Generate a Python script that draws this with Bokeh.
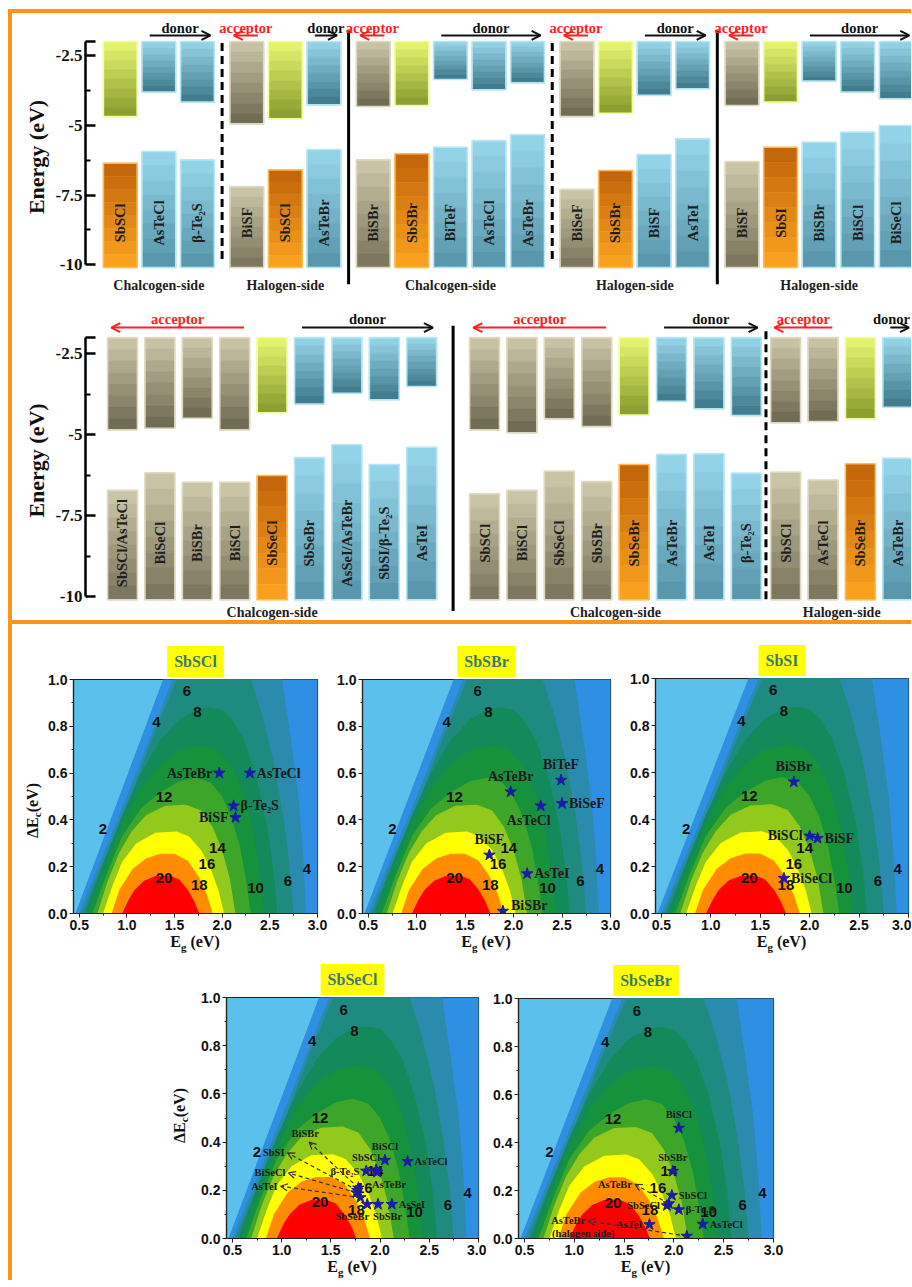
from math import pi
import numpy as np
from bokeh.plotting import figure
from bokeh.models import (ColumnDataSource, FixedTicker, Arrow, OpenHead, Spacer, Div,
                          NumeralTickFormatter, Range1d)
from bokeh.layouts import row, column
from bokeh.core.properties import value, field
from bokeh.embed import file_html
from bokeh.resources import INLINE

SERIF = "Liberation Serif"
SANS = "Liberation Sans"
ORANGE = "#f7951d"

# ===================== band alignment data =====================
# upper row
r1_names = ["SbSCl", "AsTeCl", "β-Te₂S",
            "BiSF", "SbSCl", "AsTeBr",
            "BiSBr", "SbSBr", "BiTeF", "AsTeCl", "AsTeBr",
            "BiSeF", "SbSBr", "BiSF", "AsTeI",
            "BiSF", "SbSI", "BiSBr", "BiSCl", "BiSeCl"]
r1_group = [0, 0, 0, 1, 1, 1, 2, 2, 2, 2, 2, 3, 3, 3, 3, 4, 4, 4, 4, 4]
r1_role = ["c", "d", "d", "a", "c", "d", "a", "c", "d", "d", "d",
           "a", "c", "d", "d", "a", "c", "d", "d", "d"]
r1_cbm = [-4.69, -3.81, -4.17, -4.95, -4.77, -4.27, -4.33, -4.29, -3.36, -3.73, -3.48,
          -4.69, -4.57, -3.93, -3.69, -4.29, -4.17, -3.42, -3.81, -4.05]
r1_vbm = [-6.36, -5.94, -6.24, -7.20, -6.60, -5.87, -6.24, -6.02, -5.79, -5.55, -5.34,
          -7.30, -6.62, -6.05, -5.49, -6.30, -5.79, -5.61, -5.25, -5.01]
r1_side = ["Chalcogen-side", "Halogen-side", "Chalcogen-side", "Halogen-side", "Halogen-side"]

# lower row
r2_names = ["SbSCl/AsTeCl", "BiSeCl", "BiSBr", "BiSCl", "SbSeCl", "SbSeBr", "AsSeI/AsTeBr",
            "SbSI/β-Te₂S", "AsTeI",
            "SbSCl", "BiSCl", "SbSeCl", "SbSBr", "SbSeBr", "AsTeBr", "AsTeI", "β-Te₂S",
            "SbSCl", "AsTeCl", "SbSeBr", "AsTeBr"]
r2_group = [0] * 9 + [1] * 8 + [2] * 4
r2_role = ["a", "a", "a", "a", "c", "d", "d", "d", "d",
           "a", "a", "a", "a", "c", "d", "d", "d",
           "a", "a", "c", "d"]
r2_cbm = [-4.85, -4.80, -4.49, -4.85, -4.32, -4.05, -3.72, -3.92, -3.51,
          -4.85, -4.94, -4.51, -4.75, -4.39, -3.97, -4.20, -4.41,
          -4.63, -4.59, -4.51, -4.15]
r2_vbm = [-6.72, -6.18, -6.47, -6.47, -6.26, -5.71, -5.31, -5.92, -5.39,
          -6.83, -6.72, -6.13, -6.45, -5.92, -5.61, -5.59, -6.19,
          -6.16, -6.40, -5.90, -5.73]
r2_side = ["Chalcogen-side", "Chalcogen-side", "Halogen-side"]

BAND_TOP = -2.0
BAND_BOTTOM = -10.1
E_TICKS = [-10, -7.5, -5, -2.5, -2]
E_MINOR = [-8.75, -6.25, -3.75]

# ===================== efficiency contour data =====================
lvl_2_eg = [0.41, 0.46, 0.92, 1.38, 1.47, 3.30, 3.30]
lvl_2_de = [-0.05, 0.00, 0.50, 1.00, 1.10, 1.10, -0.05]
lvl_4_eg = [0.45, 0.50, 1.00, 1.48, 1.58, 2.62, 2.63, 2.72, 2.80, 2.85, 2.88, 2.89]
lvl_4_de = [-0.05, 0.00, 0.50, 1.00, 1.10, 1.10, 1.00, 0.75, 0.50, 0.25, 0.00, -0.05]
lvl_6_eg = [0.48, 0.53, 0.80, 1.02, 1.25, 1.52, 1.60, 2.26, 2.30, 2.42, 2.54, 2.64, 2.71, 2.75, 2.76]
lvl_6_de = [-0.05, 0.00, 0.27, 0.48, 0.73, 1.00, 1.10, 1.10, 1.00, 0.85, 0.65, 0.42, 0.20, 0.00, -0.05]
lvl_8_eg = [0.51, 0.56, 0.75, 0.95, 1.15, 1.35, 1.55, 1.75, 1.88, 2.00, 2.10, 2.22, 2.35, 2.47, 2.54, 2.58, 2.59]
lvl_8_de = [-0.05, 0.00, 0.21, 0.42, 0.60, 0.74, 0.83, 0.875, 0.88, 0.87, 0.83, 0.75, 0.60, 0.38, 0.18, 0.00, -0.05]
lvl_10_eg = [0.55, 0.60, 0.75, 0.95, 1.15, 1.35, 1.55, 1.80, 1.95, 2.10, 2.22, 2.32, 2.39, 2.44, 2.45]
lvl_10_de = [-0.05, 0.00, 0.17, 0.38, 0.54, 0.64, 0.70, 0.72, 0.70, 0.63, 0.52, 0.36, 0.18, 0.00, -0.05]
lvl_12_eg = [0.59, 0.64, 0.78, 0.95, 1.15, 1.36, 1.55, 1.72, 1.88, 2.00, 2.10, 2.19, 2.26, 2.30, 2.31]
lvl_12_de = [-0.05, 0.00, 0.16, 0.33, 0.45, 0.52, 0.565, 0.58, 0.56, 0.50, 0.41, 0.28, 0.12, 0.00, -0.05]
lvl_14_eg = [0.64, 0.69, 0.80, 0.92, 1.05, 1.20, 1.40, 1.62, 1.78, 1.90, 2.00, 2.08, 2.14, 2.15]
lvl_14_de = [-0.05, 0.00, 0.14, 0.26, 0.35, 0.42, 0.46, 0.465, 0.44, 0.37, 0.27, 0.15, 0.00, -0.05]
lvl_16_eg = [0.70, 0.75, 0.85, 0.95, 1.10, 1.30, 1.52, 1.65, 1.78, 1.88, 1.96, 2.02, 2.03]
lvl_16_de = [-0.05, 0.00, 0.12, 0.22, 0.30, 0.345, 0.35, 0.33, 0.27, 0.19, 0.10, 0.00, -0.05]
lvl_18_eg = [0.79, 0.84, 0.92, 1.06, 1.20, 1.35, 1.50, 1.64, 1.75, 1.84, 1.90, 1.91]
lvl_18_de = [-0.05, 0.00, 0.10, 0.19, 0.235, 0.255, 0.255, 0.225, 0.16, 0.08, 0.00, -0.05]
lvl_20_eg = [0.90, 0.95, 1.02, 1.08, 1.18, 1.30, 1.45, 1.55, 1.64, 1.71, 1.76, 1.77]
lvl_20_de = [-0.05, 0.00, 0.06, 0.10, 0.14, 0.16, 0.162, 0.145, 0.10, 0.05, 0.00, -0.05]

LEVELS = [(lvl_2_eg, lvl_2_de), (lvl_4_eg, lvl_4_de), (lvl_6_eg, lvl_6_de),
          (lvl_8_eg, lvl_8_de), (lvl_10_eg, lvl_10_de), (lvl_12_eg, lvl_12_de),
          (lvl_14_eg, lvl_14_de), (lvl_16_eg, lvl_16_de), (lvl_18_eg, lvl_18_de),
          (lvl_20_eg, lvl_20_de)]
BASE_COLOR = "#5bc0eb"
LEVEL_COLORS = ["#2f8fe2", "#2b8baf", "#1f8a80", "#138a5a", "#16923c",
                "#3da52a", "#93c91c", "#ffff00", "#ff8c00", "#ff0000"]

clab_text = ["2", "4", "6", "8", "12", "14", "16", "18", "20", "10", "6", "4"]
clab_eg = [0.75, 1.31, 1.63, 1.74, 1.39, 1.95, 1.84, 1.76, 1.39, 2.35, 2.69, 2.89]
clab_de = [0.36, 0.82, 0.95, 0.86, 0.50, 0.28, 0.21, 0.12, 0.15, 0.11, 0.14, 0.19]

X_TICKS = [0.5, 1.0, 1.5, 2.0, 2.5, 3.0]
X_MINOR = [0.75, 1.25, 1.75, 2.25, 2.75]
Y_TICKS = [0.0, 0.2, 0.4, 0.6, 0.8, 1.0]
Y_MINOR = [0.1, 0.3, 0.5, 0.7, 0.9]

sbscl_names = ["AsTeBr", "AsTeCl", "β-Te₂S", "BiSF"]
sbscl_eg = [1.97, 2.29, 2.12, 2.14]
sbscl_de = [0.60, 0.60, 0.46, 0.41]
sbscl_place = ["left", "right", "right", "left"]

sbsbr_names = ["AsTeBr", "BiTeF", "AsTeCl", "BiSeF", "BiSF", "AsTeI", "BiSBr"]
sbsbr_eg = [1.97, 2.49, 2.28, 2.50, 1.75, 2.14, 1.89]
sbsbr_de = [0.52, 0.57, 0.46, 0.47, 0.25, 0.17, 0.01]
sbsbr_place = ["above", "above", "below", "right", "above", "right", "right-up"]

sbsi_names = ["BiSBr", "BiSCl", "BiSF", "BiSeCl"]
sbsi_eg = [1.84, 2.00, 2.08, 1.74]
sbsi_de = [0.56, 0.33, 0.32, 0.15]
sbsi_place = ["above", "left", "right", "right"]

sbsecl_names = ["BiSCl", "AsTeCl", "β-Te₂S", "SbSCl", "AsTeBr", "BiSBr", "SbSI", "BiSeCl",
                "AsTeI", "SbSeBr", "SbSBr", "AsSeI"]
sbsecl_eg = [2.05, 2.28, 1.86, 1.96, 1.97, 1.78, 1.77, 1.76, 1.80, 1.87, 1.98, 2.12]
sbsecl_de = [0.325, 0.32, 0.28, 0.285, 0.275, 0.21, 0.20, 0.19, 0.17, 0.142, 0.142, 0.142]
sbsecl_place = ["above", "right", "left", "above-left", "below-right", "arrow-above",
                "arrow-left", "arrow-left", "arrow-left", "below-left", "below-right", "right"]
sbsecl_tip_eg = [1.28, 1.06, 1.07, 0.99]
sbsecl_tip_de = [0.40, 0.355, 0.272, 0.217]

sbsebr_names = ["BiSCl", "SbSBr", "SbSCl", "SbSeCl", "β-Te₂S", "AsTeCl", "AsTeI", "AsTeBr", "AsTeBr"]
sbsebr_eg = [2.05, 1.99, 1.98, 1.93, 2.05, 2.29, 1.755, 1.95, 2.13]
sbsebr_de = [0.46, 0.28, 0.18, 0.137, 0.12, 0.06, 0.058, 0.145, 0.01]
sbsebr_place = ["above", "above", "right", "left", "right", "right", "left", "arrow-left", "arrow-left"]
sbsebr_tip_eg = [1.61, 1.14]
sbsebr_tip_de = [0.226, 0.073]

# ===================== helpers =====================
GRAD = {("a", "up"): ("#cdc8aa", "#6b664e"), ("a", "lo"): ("#cfc9ab", "#777259"),
        ("c", "up"): ("#e8f772", "#86992c"), ("c", "lo"): ("#c0620a", "#fca520"),
        ("d", "up"): ("#98d6ea", "#3b7789"), ("d", "lo"): ("#97d7ec", "#5593a8")}
EDGE = {"a": "#dedac2", "d": "#b6e5f3", ("c", "up"): "#f2ff96", ("c", "lo"): "#ffbb55"}
NS = 8


def mix(c1, c2, t):
    a = [int(c1[i:i + 2], 16) for i in (1, 3, 5)]
    b = [int(c2[i:i + 2], 16) for i in (1, 3, 5)]
    return "#%02x%02x%02x" % tuple(int(round(a[k] + (b[k] - a[k]) * t)) for k in range(3))


def band_panel(names, group, role, cbm, vbm, side, *, width, height, left, xr, yr, gaps,
               bar_w, lab_y, word_y, arrow_y, side_y, solid_ext, dashed_ext):
    p = figure(width=width, height=height, x_range=Range1d(*xr), y_range=Range1d(*yr),
               x_axis_type=None, title=None, toolbar_location=None, output_backend="svg",
               min_border_left=left, min_border_right=0, min_border_top=0, min_border_bottom=0)
    p.outline_line_color = None
    p.grid.visible = False
    px_per_slot = (width - left) / (xr[1] - xr[0])
    center = {}
    for n, g, r in zip(names, group, role):
        if r == "c":
            center[g] = n
    xs, seps, off = [], [], 0.0
    for i, g in enumerate(group):
        if i and g != group[i - 1]:
            style = "dashed" if center[g] == center[group[i - 1]] else "solid"
            off += gaps[style]
            seps.append(((xs[-1] + i + off) / 2.0, style))
        xs.append(i + off)

    sl = dict(l=[], r=[], t=[], b=[], c=[])
    ol = dict(l=[], r=[], t=[], b=[], c=[])
    for x, rl, cb, vb in zip(xs, role, cbm, vbm):
        for part, top, bot in (("up", BAND_TOP, cb), ("lo", vb, BAND_BOTTOM)):
            c1, c2 = GRAD[(rl, part)]
            edges = np.linspace(top, bot, NS + 1)
            for k in range(NS):
                sl["l"].append(x - bar_w / 2); sl["r"].append(x + bar_w / 2)
                sl["t"].append(edges[k]); sl["b"].append(edges[k + 1])
                sl["c"].append(mix(c1, c2, (k + 0.5) / NS))
            ol["l"].append(x - bar_w / 2); ol["r"].append(x + bar_w / 2)
            ol["t"].append(top); ol["b"].append(bot)
            ol["c"].append(EDGE[rl] if rl != "c" else EDGE[(rl, part)])
    p.quad(left="l", right="r", top="t", bottom="b", fill_color="c", line_color="c",
           line_width=0.6, source=ColumnDataSource(sl))
    p.quad(left="l", right="r", top="t", bottom="b", fill_color=None, line_color="c",
           line_width=1.6, source=ColumnDataSource(ol))

    p.text(x=xs, y=[lab_y] * len(xs), text=names, angle=pi / 2, text_align="center",
           text_baseline="middle", text_font=value(SERIF), text_font_style="bold",
           text_font_size="14.5px", text_color="#1e1e1e")

    for style, ext, dash in (("solid", solid_ext, "solid"), ("dashed", dashed_ext, "8 5")):
        sx = [s for s, st in seps if st == style]
        if sx:
            p.segment(x0=sx, y0=[ext[0]] * len(sx), x1=sx, y1=[ext[1]] * len(sx),
                      line_color="black", line_width=3, line_dash=dash)

    arr = {"acceptor": dict(x0=[], x1=[]), "donor": dict(x0=[], x1=[])}
    words = dict(x=[], t=[], c=[])
    sides = dict(x=[], t=[])
    max_c = xr[1] - 20.0 / px_per_slot
    for g in range(max(group) + 1):
        gx = [x for x, gg in zip(xs, group) if gg == g]
        sides["x"].append((min(gx) + max(gx)) / 2); sides["t"].append(side[g])
        ax = [x for x, gg, rl in zip(xs, group, role) if gg == g and rl == "a"]
        dx = [x for x, gg, rl in zip(xs, group, role) if gg == g and rl == "d"]
        if ax:
            x0 = max(ax) + bar_w / 2 - 0.15
            x1 = min(ax) - bar_w / 2 + 0.1
            arr["acceptor"]["x0"].append(x0); arr["acceptor"]["x1"].append(x1)
            words["x"].append(min((x0 + x1) / 2, max_c)); words["t"].append("acceptor")
            words["c"].append("#ff2020")
        if dx:
            x0 = min(dx) - bar_w / 2 + 0.2
            x1 = max(dx) + bar_w / 2 - 0.1
            arr["donor"]["x0"].append(x0); arr["donor"]["x1"].append(x1)
            words["x"].append(min((x0 + x1) / 2, max_c)); words["t"].append("donor")
            words["c"].append("#111111")
    for kind, col in (("acceptor", "#ff2020"), ("donor", "#111111")):
        d = arr[kind]
        n = len(d["x0"])
        src = ColumnDataSource(dict(x0=d["x0"], x1=d["x1"], y=[arrow_y] * n))
        p.add_layout(Arrow(source=src, x_start="x0", y_start="y", x_end="x1", y_end="y",
                           line_color=col, line_width=2,
                           end=OpenHead(size=9, line_color=col, line_width=2)))
    p.text(x=words["x"], y=[word_y] * len(words["x"]), text=words["t"], text_color=words["c"],
           text_align="center", text_baseline="middle", text_font=value(SERIF),
           text_font_style="bold", text_font_size="14.5px")
    p.text(x=sides["x"], y=[side_y] * len(sides["x"]), text=sides["t"], text_align="center",
           text_baseline="middle", text_font=value(SERIF), text_font_style="bold",
           text_font_size="14px", text_color="#1e1e1e")

    ax = p.yaxis[0]
    ax.bounds = (-10, -2)
    ax.ticker = FixedTicker(ticks=E_TICKS, minor_ticks=E_MINOR)
    ax.formatter = NumeralTickFormatter(format="0.[0]")
    ax.major_label_overrides = {-2: ""}
    ax.axis_line_width = 2.5
    ax.axis_line_color = "black"
    ax.major_tick_line_width = 2.5
    ax.major_tick_in = 10
    ax.major_tick_out = 0
    ax.minor_tick_in = 5
    ax.minor_tick_out = 0
    ax.minor_tick_line_width = 2
    ax.major_label_text_font = SERIF
    ax.major_label_text_font_style = "bold"
    ax.major_label_text_font_size = "17px"
    ax.major_label_text_color = "#111111"
    ax.major_label_standoff = 3
    ax.axis_label = "Energy (eV)"
    ax.axis_label_text_font = SERIF
    ax.axis_label_text_font_style = "bold"
    ax.axis_label_text_font_size = "22px"
    ax.axis_label_text_color = "#111111"
    ax.axis_label_standoff = 4
    return p


PLACE = {
    "left": (-7, 0, "right", "middle"),
    "right": (7, 0, "left", "middle"),
    "above": (0, -8, "center", "bottom"),
    "below": (-12, 7, "center", "top"),
    "above-left": (4, -7, "right", "bottom"),
    "below-left": (2, 7, "right", "top"),
    "below-right": (-5, 7, "left", "top"),
    "right-up": (8, -6, "left", "middle"),
    "arrow-left": (-3, 0, "right", "middle"),
    "arrow-above": (-4, -3, "center", "bottom"),
}


def contour_panel(title, names, eg, de, place, *, width, height, mbl, mbr, mbt, mbb,
                  title_dx, font="14px", tips_eg=(), tips_de=(), note=None):
    p = figure(width=width, height=height, x_range=Range1d(0.44, 3.0005),
               y_range=Range1d(0.0, 1.0), title=title, toolbar_location=None,
               output_backend="svg", min_border_left=mbl, min_border_right=mbr,
               min_border_top=mbt, min_border_bottom=mbb)
    t = p.title
    t.align = "center"
    t.offset = title_dx
    t.standoff = 5
    t.text_font = SERIF
    t.text_font_style = "bold"
    t.text_font_size = "16px"
    t.text_color = "#3b7b6f"
    t.background_fill_color = "#ffff00"
    t.padding = 7

    p.background_fill_color = BASE_COLOR
    p.border_fill_color = "white"
    p.grid.visible = False
    p.outline_line_color = "#222222"
    p.outline_line_width = 1.2
    for (lx_, ly_), col in zip(LEVELS, LEVEL_COLORS):
        p.patch(lx_, ly_, fill_color=col, line_color=None)

    p.text(x=clab_eg, y=clab_de, text=clab_text, text_align="center", text_baseline="middle",
           text_font=value(SANS), text_font_style="bold", text_font_size="15px",
           text_color="#111111")

    tips = iter(zip(tips_eg, tips_de))
    lab = dict(x=[], y=[], t=[], dx=[], dy=[], al=[], bl=[])
    arr = dict(x0=[], y0=[], x1=[], y1=[])
    for n, x, y, pl in zip(names, eg, de, place):
        if pl.startswith("arrow"):
            tx, ty = next(tips)
            arr["x0"].append(x); arr["y0"].append(y); arr["x1"].append(tx); arr["y1"].append(ty)
            x, y = tx, ty
        dx, dy, al, bl = PLACE[pl]
        lab["x"].append(x); lab["y"].append(y); lab["t"].append(n)
        lab["dx"].append(dx); lab["dy"].append(dy); lab["al"].append(al); lab["bl"].append(bl)
    if note is not None:
        ntext, nidx = note
        lab["x"].append(arr["x1"][nidx]); lab["y"].append(arr["y1"][nidx]); lab["t"].append(ntext)
        lab["dx"].append(26); lab["dy"].append(7); lab["al"].append("right"); lab["bl"].append("top")
    if arr["x0"]:
        p.add_layout(Arrow(source=ColumnDataSource(arr), x_start="x0", y_start="y0",
                           x_end="x1", y_end="y1", line_color="#333333", line_width=1.2,
                           line_dash="4 3",
                           end=OpenHead(size=7, line_color="#333333", line_width=1.2)))
    p.scatter(eg, de, marker="star", size=12, fill_color="#1b1ba6", line_color="#1b1ba6")
    p.text(x="x", y="y", text="t", x_offset=field("dx"), y_offset=field("dy"),
           text_align=field("al"), text_baseline=field("bl"), source=ColumnDataSource(lab),
           text_font=value(SERIF), text_font_style="bold", text_font_size=font,
           text_color="#1a1a1a")

    p.xaxis.ticker = FixedTicker(ticks=X_TICKS, minor_ticks=X_MINOR)
    p.yaxis.ticker = FixedTicker(ticks=Y_TICKS, minor_ticks=Y_MINOR)
    for ax in (p.xaxis[0], p.yaxis[0]):
        ax.formatter = NumeralTickFormatter(format="0.0")
        ax.axis_line_color = "#222222"
        ax.axis_line_width = 1.2
        ax.major_tick_in = 0
        ax.major_tick_out = 4
        ax.minor_tick_in = 0
        ax.minor_tick_out = 2
        ax.major_tick_line_color = "#222222"
        ax.minor_tick_line_color = "#222222"
        ax.major_label_text_font = SANS
        ax.major_label_text_font_style = "bold"
        ax.major_label_text_font_size = "14px"
        ax.major_label_text_color = "#111111"
        ax.major_label_standoff = 2
    return p


LABEL_FONT = "font-family:'Liberation Serif',serif;font-weight:bold;font-size:16px;color:#111111;"


def xlabel_div(width, mbl, mbr, height):
    html = ('<div style="width:%dpx;box-sizing:border-box;padding-left:%dpx;padding-right:%dpx;'
            'text-align:center;line-height:16px;position:relative;top:-2px;%s">'
            'E<sub style="font-size:11px;line-height:0;vertical-align:-4px;">g</sub> (eV)</div>'
            % (width, mbl, mbr, LABEL_FONT))
    return Div(text=html, width=width, height=height, margin=0)


def ylabel_div(width, height, pad_left, pad_top=0, pad_bottom=0):
    html = ('<div style="width:%dpx;height:%dpx;box-sizing:border-box;padding-left:%dpx;'
            'padding-top:%dpx;padding-bottom:%dpx;display:flex;align-items:center;'
            'justify-content:center;"><span style="writing-mode:vertical-rl;'
            'transform:rotate(180deg);white-space:nowrap;%s">ΔE<sub style="font-size:11px;">c</sub>(eV)'
            '</span></div>' % (width, height, pad_left, pad_top, pad_bottom, LABEL_FONT))
    return Div(text=html, width=width, height=height, margin=0)


# ===================== build =====================
band1 = band_panel(r1_names, r1_group, r1_role, r1_cbm, r1_vbm, r1_side,
                   width=899, height=287, left=68, xr=(-0.902, 20.515), yr=(-11.281, -0.995),
                   gaps={"solid": 0.28, "dashed": 0.28}, bar_w=0.876, lab_y=-8.5,
                   word_y=-1.5, arrow_y=-1.78, side_y=-10.75,
                   solid_ext=(-1.6, -10.7), dashed_ext=(-2.05, -9.85))
band2 = band_panel(r2_names, r2_group, r2_role, r2_cbm, r2_vbm, r2_side,
                   width=899, height=320, left=73, xr=(-0.989, 21.096), yr=(-10.742, -0.853),
                   gaps={"solid": 0.68, "dashed": 0.05}, bar_w=0.80, lab_y=-8.35,
                   word_y=-1.44, arrow_y=-1.69, side_y=-10.48,
                   solid_ext=(-1.63, -10.45), dashed_ext=(-1.8, -10.15))

c1 = contour_panel("SbSCl", sbscl_names, sbscl_eg, sbscl_de, sbscl_place,
                   width=286, height=312, mbl=29, mbr=13, mbt=55, mbb=23, title_dx=8)
c2 = contour_panel("SbSBr", sbsbr_names, sbsbr_eg, sbsbr_de, sbsbr_place,
                   width=290, height=312, mbl=32, mbr=10, mbt=55, mbb=23, title_dx=1)
c3 = contour_panel("SbSI", sbsi_names, sbsi_eg, sbsi_de, sbsi_place,
                   width=291, height=312, mbl=35, mbr=3, mbt=54, mbb=23, title_dx=-11)
c4 = contour_panel("SbSeCl", sbsecl_names, sbsecl_eg, sbsecl_de, sbsecl_place,
                   width=290, height=306, mbl=30, mbr=8, mbt=42, mbb=23, title_dx=2,
                   font="10.5px", tips_eg=sbsecl_tip_eg, tips_de=sbsecl_tip_de)
c5 = contour_panel("SbSeBr", sbsebr_names, sbsebr_eg, sbsebr_de, sbsebr_place,
                   width=304, height=306, mbl=32, mbr=17, mbt=43, mbb=23, title_dx=7,
                   font="10.5px", tips_eg=sbsebr_tip_eg, tips_de=sbsebr_tip_de,
                   note=("(halogen side)", 1))

rowA = row(ylabel_div(32, 331, 12, pad_top=41),
           column(c1, xlabel_div(286, 29, 13, 19)),
           column(c2, xlabel_div(290, 32, 10, 19)),
           column(c3, xlabel_div(291, 35, 3, 19)))
rowB = row(Spacer(width=138, height=325),
           ylabel_div(46, 325, 16, pad_bottom=5),
           column(c4, xlabel_div(290, 30, 8, 19)),
           column(c5, xlabel_div(304, 32, 17, 19)),
           Spacer(width=121, height=325))

orange = {"background-color": ORANGE}
H = 4 + 287 + 320 + 4 + 331 + 325
content = column(Spacer(width=899, height=4, styles=orange, margin=0),
                 band1, band2,
                 Spacer(width=899, height=4, styles=orange, margin=0),
                 rowA, rowB)
layout = column(Spacer(width=911, height=9),
                row(Spacer(width=8, height=H),
                    Spacer(width=4, height=H, styles=orange, margin=0),
                    content))

open("out.html", "w").write(file_html(layout, INLINE))
